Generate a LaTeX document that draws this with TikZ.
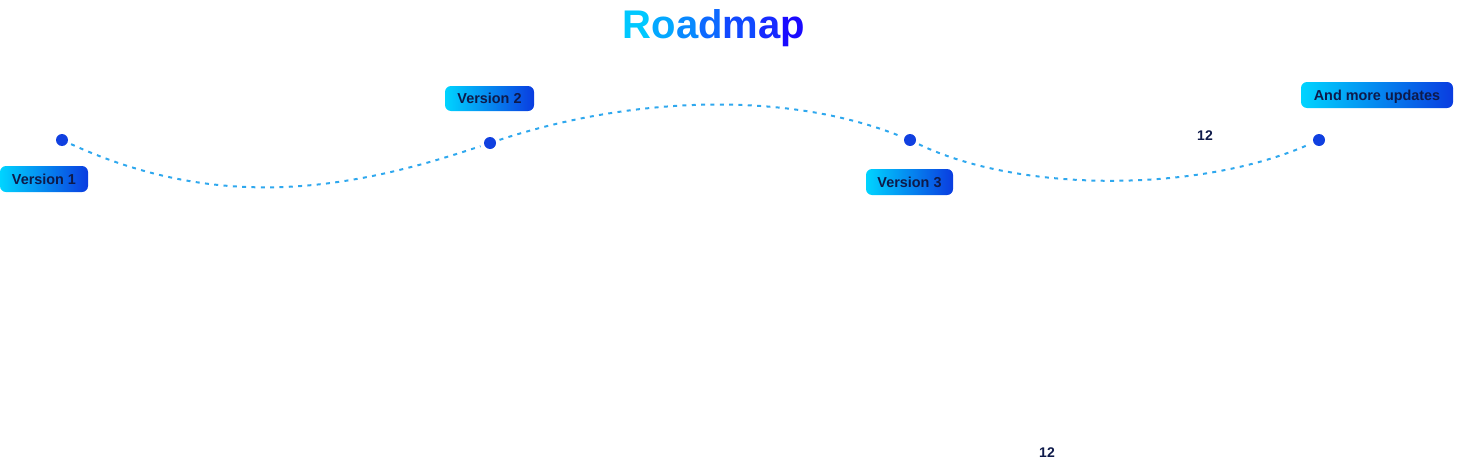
\documentclass[tikz,border=0pt]{standalone}
\usepackage{fontspec}
\setmainfont{Liberation Sans}
\usetikzlibrary{calc}
\definecolor{cyanA}{HTML}{00D4FF}
\definecolor{blueB}{HTML}{0A3CE0}
\definecolor{titleA}{HTML}{00C8FF}
\definecolor{titleB}{HTML}{1A0AFF}
\definecolor{dotc}{HTML}{1040E0}
\definecolor{linec}{HTML}{2FA8EE}
\definecolor{navy}{HTML}{0E1A4A}
\tikzset{
  labelbox/.style={rounded corners=4.5pt, left color=cyanA, right color=blueB,
    text=navy, font=\fontsize{10.8}{12}\selectfont\bfseries, inner sep=0pt,
    text height=7.8pt, text depth=0pt},
  dot/.style={circle, fill=dotc, minimum size=9pt, inner sep=0pt},
  road/.style={linec, line width=1.5pt, dash pattern=on 3pt off 4pt, shorten <=7.5pt, shorten >=7.5pt},
  numlabel/.style={text=navy, font=\fontsize{10.5}{12}\selectfont\bfseries, inner sep=0pt}
}
\begin{document}
\begin{tikzpicture}[x=0.75pt,y=-0.75pt]
\useasboundingbox (0,0) rectangle (1477,471);
% title
\node[inner sep=0pt, text height=21.5pt, text depth=0pt] (title) at (714,24) {\fontsize{30}{34}\selectfont\bfseries
  \textcolor{titleA!100!titleB}{R}\textcolor{titleA!83!titleB}{o}\textcolor{titleA!67!titleB}{a}\textcolor{titleA!50!titleB}{d}\textcolor{titleA!33!titleB}{m}\textcolor{titleA!17!titleB}{a}\textcolor{titleA!0!titleB}{p}};
% dots
\coordinate (p1) at (62,140);
\coordinate (p2) at (490,143);
\coordinate (p3) at (910,140);
\coordinate (p4) at (1319,140);
% road
\draw[road] (p1) .. controls (220,212) and (350,190) .. (p2);
\draw[road] (p2) .. controls (630,97) and (785,90) .. (p3);
\draw[road] (p3) .. controls (1020,193) and (1200,193) .. (p4);
\node[dot] (d1) at (p1) {};
\node[dot] (d2) at (p2) {};
\node[dot] (d3) at (p3) {};
\node[dot] (d4) at (p4) {};
% labels
\node[labelbox, minimum width=66pt, minimum height=19.5pt] (l1) at (44,179) {Version 1};
\node[labelbox, minimum width=66.75pt, minimum height=18.75pt] (l2) at (489.5,98.5) {Version 2};
\node[labelbox, minimum width=65.25pt, minimum height=19.5pt] (l3) at (909.5,182) {Version 3};
\node[labelbox, minimum width=114pt, minimum height=19.5pt] (l4) at (1377,95) {And more updates};
% numbers
\node[numlabel] (n1) at (1205,136) {12};
\node[numlabel] (n2) at (1047,453) {12};
\end{tikzpicture}
\end{document}
